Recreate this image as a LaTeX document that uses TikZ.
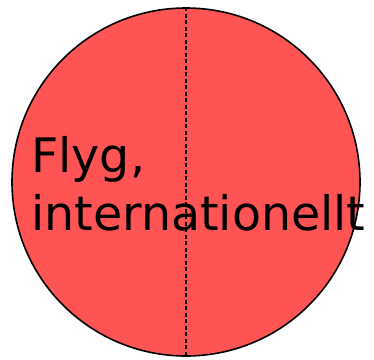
\documentclass[tikz,border=0pt]{standalone}
\usepackage{fontspec}
\setmainfont{DejaVu Sans}
\usepackage{tikz}
\definecolor{piered}{RGB}{255,84,84}

\begin{document}
\begin{tikzpicture}[x=1pt, y=-1pt,
  pie/.style={circle, draw=black, line width=1.6pt, fill=piered, minimum size=348pt, inner sep=0pt},
  split/.style={draw=black, line width=1.4pt, dash pattern=on 4pt off 2.5pt},
  lab/.style={font=\fontsize{47.5}{58}\selectfont, align=left, inner sep=0pt}]
  \useasboundingbox (0,0) rectangle (374,359);
  % the disc
  \node[pie] (disc) at (186,182) {};
  % dividing line
  \draw[split] (disc.north) -- (disc.south);
  % label
  \node[lab, anchor=base west] (name) at (31,230) {Flyg,\\internationellt};
\end{tikzpicture}
\end{document}
